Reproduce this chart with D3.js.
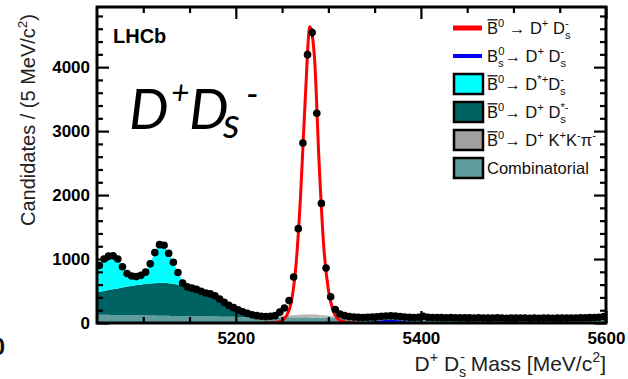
<!DOCTYPE html>
<html><head><meta charset="utf-8">
<script src="https://cdn.jsdelivr.net/npm/d3@7"></script>
<style>html,body{margin:0;padding:0;background:#fff;} svg{display:block;}</style>
</head><body><svg id="c" width="628" height="379"></svg>
<script>
// ---------------- data ----------------
// data points: 5 MeV bins, centres 5052.5 ... 5597.5
const binCenters = d3.range(5052.5, 5600, 5);
const counts = [
  900,1000,1045,1050,1000,880,775,735,725,745,
  795,925,1100,1225,1215,1090,950,790,625,565,
  545,525,495,470,455,425,375,325,275,240,
  205,175,150,130,115,105,100,105,115,170,
  235,350,720,1475,2815,4195,4540,3280,1870,860,
  410,210,140,
  115,100,92,88,86,88,92,98,104,110,
  112,108,100,92,88,86,90,105,88,85,
  87,84,82,86,83,80,82,80,78,81,
  79,76,79,80,77,75,78,76,79,77,
  75,77,74,76,78,75,76,78,76,77,
  79,80,82,84,86,90,100
];
// fit components on a common mass grid
const gridMass = d3.range(5050, 5351, 5).concat(d3.range(5375, 5601, 25));
const combinatorial = [
  130,129,128,127,125,124,123,122,121,120,
  118,117,116,115,114,113,111,110,109,108,
  107,106,104,103,102,101,100,99,97,96,
  95,95,94,94,93,93,92,92,91,91,
  90,90,89,89,88,88,87,87,86,86,
  85,85,84,84,83,83,82,82,81,81,
  80,
  78,76,74,72,70,68,66,64,62,60
];
const dpKKpi = [
  0,0,0,0,0,0,0,0,0,0,
  0,0,0,0,0,0,0,0,0,0,
  0,0,0,0,0,0,0,0,0,0,
  0,0,0,0,0,0,2,5,9,14,
  20,26,32,37,41,44,45,44,41,36,
  30,24,18,12,8,5,3,1,0,0,
  0,
  0,0,0,0,0,0,0,0,0,0
];
const dDsStar = [
  350,365,380,395,410,425,440,452,465,477,
  488,497,505,511,515,514,508,497,480,457,
  432,410,390,370,350,322,290,248,202,160,
  122,90,65,45,30,19,12,7,3,1,
  0,0,0,0,0,0,0,0,0,0,
  0,0,0,0,0,0,0,0,0,0,
  0,
  0,0,0,0,0,0,0,0,0,0
];
const dStarDs = [
  400,481,522,528,495,401,267,181,142,136,
  164,240,400,545,600,530,400,265,126,35,
  0,0,0,0,0,0,0,0,0,0,
  0,0,0,0,0,0,0,0,0,0,
  0,0,0,0,0,0,0,0,0,0,
  0,0,0,0,0,0,0,0,0,0,
  0,
  0,0,0,0,0,0,0,0,0,0
];
// signal curve (B0 -> D+ Ds-)
const sigMass = [5230,5240,5245,5250,5255,5260,5265,5270,5275,5280,5285,5290,5295,5300,5305,5310,5315,5320,5330];
const sigVals = [0,3,12,40,120,330,900,2000,3500,4630,4150,2500,1200,520,200,70,25,8,0];
// Bs -> D+ Ds- curve
const bsMass = [5330,5345,5350,5355,5360,5367,5374,5379,5384,5389,5405];
const bsVals = [0,2,8,18,28,35,28,18,8,2,0];

const xMajor = [5200,5400,5600];
const xMinor = [5100,5150,5250,5300,5350,5450,5500,5550];
const yMajor = [0,1000,2000,3000,4000];
const yMinor = d3.range(200, 4900, 200).filter(v => v % 1000 !== 0);

// ---------------- drawing ----------------
const svg = d3.select('#c');
svg.append('rect').attr('width',628).attr('height',379).attr('fill','#fff');
const x = d3.scaleLinear().domain([5050,5600]).range([97,606]);
const y = d3.scaleLinear().domain([0,4940]).range([323,7]);
const FONT = "'Liberation Sans', Arial, sans-serif";

svg.append('clipPath').attr('id','pc').append('rect')
  .attr('x',97).attr('y',7).attr('width',509).attr('height',316);
const plot = svg.append('g').attr('clip-path','url(#pc)');

const rows = gridMass.map((m,i) => ({m, comb: combinatorial[i], kkpi: dpKKpi[i], dss: dDsStar[i], dst: dStarDs[i]}));
const keys = ['comb','kkpi','dss','dst'];
const colors = {comb:'#5f9c9c', kkpi:'#b8b8b8', dss:'#006363', dst:'#00ffff'};
const stack = d3.stack().keys(keys)(rows);
const area = d3.area().x(d => x(d.data.m)).y0(d => y(d[0])).y1(d => y(d[1])).curve(d3.curveMonotoneX);
plot.selectAll('path.layer').data(stack).join('path').attr('class','layer')
  .attr('d', area).attr('fill', d => colors[d.key]).attr('stroke','none');

const line = d3.line().x(d => x(d[0])).y(d => y(d[1])).curve(d3.curveMonotoneX);
plot.append('path').attr('d', line(bsMass.map((m,i)=>[m,bsVals[i]])))
  .attr('fill','none').attr('stroke','#0000ff').attr('stroke-width',2);
plot.append('path').attr('d', line(sigMass.map((m,i)=>[m,sigVals[i]])))
  .attr('fill','none').attr('stroke','#ff0000').attr('stroke-width',3);

const pts = binCenters.map((m,i)=>[m,counts[i]]);
plot.selectAll('line.err').data(pts).join('line').attr('class','err')
  .attr('x1', d => x(d[0])).attr('x2', d => x(d[0]))
  .attr('y1', d => y(d[1] + Math.sqrt(d[1]))).attr('y2', d => y(d[1] - Math.sqrt(d[1])))
  .attr('stroke','#000').attr('stroke-width',2);
plot.selectAll('line.herr').data(pts).join('line').attr('class','herr')
  .attr('x1', d => x(d[0]-2.5)).attr('x2', d => x(d[0]+2.5))
  .attr('y1', d => y(d[1])).attr('y2', d => y(d[1]))
  .attr('stroke','#000').attr('stroke-width',2);
plot.selectAll('circle.pt').data(pts).join('circle')
  .attr('class','pt').attr('cx', d => x(d[0])).attr('cy', d => y(d[1])).attr('r',3.8).attr('fill','#000');

// axes (inward ticks on all four sides)
function styleAxis(g){ g.select('.domain').remove(); g.selectAll('line').attr('stroke','#000').attr('stroke-width',2.2);
  g.selectAll('text').attr('font-family',FONT).attr('font-weight','bold').attr('font-size',17).attr('fill','#000'); }
svg.append('g').attr('transform',`translate(0,${y(0)})`)
  .call(d3.axisBottom(x).tickValues(xMajor).tickSize(-12).tickPadding(9).tickFormat(d3.format('d'))).call(styleAxis);
svg.append('g').attr('transform',`translate(0,${y(0)})`)
  .call(d3.axisBottom(x).tickValues(xMinor).tickSize(-6).tickFormat('')).call(styleAxis);
svg.append('g').attr('transform',`translate(0,${y.range()[1]})`)
  .call(d3.axisTop(x).tickValues(xMajor).tickSize(-12).tickFormat('')).call(styleAxis);
svg.append('g').attr('transform',`translate(0,${y.range()[1]})`)
  .call(d3.axisTop(x).tickValues(xMinor).tickSize(-6).tickFormat('')).call(styleAxis);
svg.append('g').attr('transform',`translate(${x(5050)},0)`)
  .call(d3.axisLeft(y).tickValues(yMajor).tickSize(-12).tickPadding(7).tickFormat(d3.format('d'))).call(styleAxis);
svg.append('g').attr('transform',`translate(${x(5050)},0)`)
  .call(d3.axisLeft(y).tickValues(yMinor).tickSize(-6).tickFormat('')).call(styleAxis);
svg.append('g').attr('transform',`translate(${x(5600)},0)`)
  .call(d3.axisRight(y).tickValues(yMajor).tickSize(-12).tickFormat('')).call(styleAxis);
svg.append('g').attr('transform',`translate(${x(5600)},0)`)
  .call(d3.axisRight(y).tickValues(yMinor).tickSize(-6).tickFormat('')).call(styleAxis);

svg.append('rect').attr('x',x(5050)).attr('y',y.range()[1]).attr('width',x(5600)-x(5050)).attr('height',y(0)-y.range()[1])
  .attr('fill','none').attr('stroke','#000').attr('stroke-width',3);

// rich text helper
function rich(parent, x0, y0, parts, fs, fill, extra){
  const t = parent.append('text').attr('x',x0).attr('y',y0).attr('font-size',fs)
    .attr('font-family',FONT).attr('fill',fill);
  if (extra) for (const k in extra) t.attr(k, extra[k]);
  let off = 0, idx = 0; const bars = [];
  parts.forEach(p => {
    let target = 0, size = fs;
    if (p.s === 'sup') { target = -0.42*fs; size = 0.68*fs; }
    if (p.s === 'sub') { target = 0.3*fs; size = 0.68*fs; }
    const ts = t.append('tspan').attr('dy', target - off).attr('font-size', size).text(p.t);
    if (p.dx) ts.attr('dx', p.dx);
    if (p.bar) bars.push(idx);
    idx += p.t.length; off = target;
  });
  const node = t.node();
  bars.forEach(i => {
    const s = node.getStartPositionOfChar(i), e = node.getEndPositionOfChar(i);
    parent.append('line').attr('x1',s.x+0.5).attr('x2',e.x-0.5).attr('y1',y0-0.86*fs).attr('y2',y0-0.86*fs)
      .attr('stroke',fill).attr('stroke-width',1.3);
  });
  return t;
}

// axis titles
rich(svg, 35, 120, [{t:'Candidates / (5 MeV/c'},{t:'2',s:'sup'},{t:')'}], 20, '#222',
  {'text-anchor':'middle', transform:'rotate(-90,35,120)'});
rich(svg, 606, 371, [{t:'D'},{t:'+',s:'sup'},{t:' D'},{t:'s',s:'sub'},{t:'-',s:'sup',dx:-6},{t:' Mass [MeV/c'},{t:'2',s:'sup'},{t:']'}], 21, '#222',
  {'text-anchor':'end'});

// partial label from neighbouring panel
svg.append('text').attr('x',5).attr('y',355).attr('text-anchor','end').attr('font-family',FONT)
  .attr('font-weight','bold').attr('font-size',24).attr('fill','#111').text('0');

// LHCb
svg.append('text').attr('x',113).attr('y',43).attr('font-family',FONT).attr('font-weight','bold')
  .attr('font-size',20).attr('fill','#000').text('LHCb');

// big label D+ Ds-
const big = svg.append('g').attr('font-family',"Lato, 'Open Sans', sans-serif").attr('font-style','italic').attr('fill','#000');
big.append('text').attr('x',129).attr('y',129).attr('font-size',56).text('D');
big.append('text').attr('x',171).attr('y',104).attr('font-size',32).text('+');
big.append('text').attr('x',189).attr('y',129).attr('font-size',56).text('D');
big.append('text').attr('x',223).attr('y',138).attr('font-size',42).text('s');
big.append('text').attr('x',246).attr('y',107).attr('font-size',36).text('-');

// legend
const legY = [28,56,84,112,140,168];
const leg = svg.append('g');
const lx = 453, tx = 487, fs = 16.5;
leg.append('line').attr('x1',lx).attr('x2',lx+29).attr('y1',legY[0]).attr('y2',legY[0]).attr('stroke','#ff0000').attr('stroke-width',5);
leg.append('line').attr('x1',lx).attr('x2',lx+29).attr('y1',legY[1]).attr('y2',legY[1]).attr('stroke','#0000ff').attr('stroke-width',4);
[['dst',2],['dss',3],['kkpi',4],['comb',5]].forEach(([k,i]) => {
  leg.append('rect').attr('x',lx+1).attr('y',legY[i]-10).attr('width',29).attr('height',20)
    .attr('fill', k==='kkpi' ? '#a0a0a0' : colors[k]).attr('stroke','#000').attr('stroke-width',2.5);
});
const labels = [
  [{t:'B',bar:1},{t:'0',s:'sup'},{t:' \u2192 D'},{t:'+',s:'sup'},{t:' D'},{t:'s',s:'sub'},{t:'-',s:'sup',dx:-5.5}],
  [{t:'B'},{t:'s',s:'sub'},{t:'0',s:'sup',dx:-5.5},{t:'\u2192 D'},{t:'+',s:'sup'},{t:' D'},{t:'s',s:'sub'},{t:'-',s:'sup',dx:-5.5}],
  [{t:'B',bar:1},{t:'0',s:'sup'},{t:'\u2192 D'},{t:'*+',s:'sup'},{t:'D'},{t:'s',s:'sub'},{t:'-',s:'sup',dx:-5.5}],
  [{t:'B',bar:1},{t:'0',s:'sup'},{t:'\u2192 D'},{t:'+',s:'sup'},{t:' D'},{t:'s',s:'sub'},{t:'*-',s:'sup',dx:-5.5}],
  [{t:'B',bar:1},{t:'0',s:'sup'},{t:'\u2192 D'},{t:'+',s:'sup'},{t:' K'},{t:'+',s:'sup'},{t:'K'},{t:'-',s:'sup'},{t:'\u03c0'},{t:'-',s:'sup'}],
  [{t:'Combinatorial'}]
];
labels.forEach((p,i) => rich(leg, tx, legY[i]+6, p, fs, '#111'));
</script></body></html>
